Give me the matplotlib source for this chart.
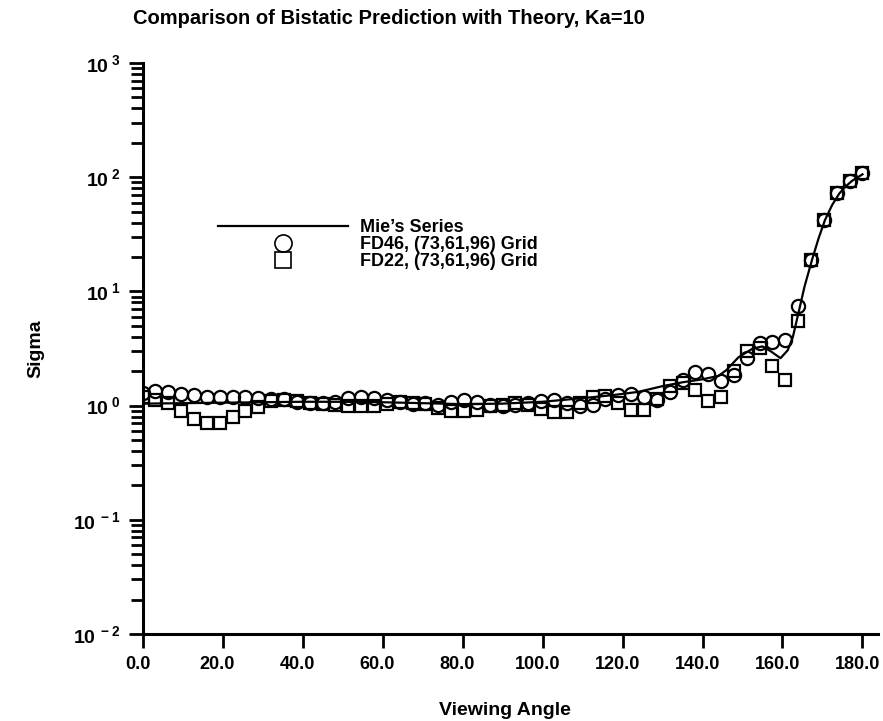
import matplotlib
matplotlib.use("Agg")
import matplotlib.pyplot as plt
from matplotlib.ticker import FixedLocator, FixedFormatter, LogLocator, NullFormatter
from matplotlib.transforms import ScaledTranslation

plt.rcParams["font.family"] = ["Liberation Sans", "DejaVu Sans"]
plt.rcParams["font.weight"] = "bold"
plt.rcParams["mathtext.fontset"] = "custom"
plt.rcParams["mathtext.rm"] = "Liberation Sans:bold"
plt.rcParams["mathtext.it"] = "Liberation Sans:bold"
plt.rcParams["mathtext.bf"] = "Liberation Sans:bold"

# viewing angles of the computed points (deg)
angle = [0.0, 3.2, 6.4, 9.6, 12.9, 16.1, 19.3, 22.5, 25.7, 28.9,
         32.1, 35.4, 38.6, 41.8, 45.0, 48.2, 51.4, 54.6, 57.9, 61.1,
         64.3, 67.5, 70.7, 73.9, 77.1, 80.4, 83.6, 86.8, 90.0, 93.2,
         96.4, 99.6, 102.9, 106.1, 109.3, 112.5, 115.7, 118.9, 122.1, 125.4,
         128.6, 131.8, 135.0, 138.2, 141.4, 144.6, 147.9, 151.1, 154.3, 157.5,
         160.7, 163.9, 167.1, 170.4, 173.6, 176.8, 180.0]

fd46 = [1.30, 1.35, 1.31, 1.27, 1.23, 1.20, 1.19, 1.19, 1.18, 1.17,
        1.15, 1.15, 1.07, 1.05, 1.05, 1.08, 1.16, 1.19, 1.17, 1.13,
        1.07, 1.03, 1.05, 1.02, 1.08, 1.12, 1.08, 1.02, 1.00, 1.02,
        1.05, 1.10, 1.13, 1.06, 1.00, 1.02, 1.15, 1.25, 1.27, 1.20,
        1.13, 1.31, 1.69, 1.96, 1.90, 1.63, 1.85, 2.60, 3.50, 3.60,
        3.78, 7.4, 19.0, 42.0, 72.0, 93.0, 108.0]

fd22 = [1.18, 1.12, 1.06, 0.89, 0.77, 0.71, 0.71, 0.79, 0.89, 0.97,
        1.09, 1.12, 1.10, 1.05, 1.03, 1.02, 1.00, 0.99, 1.00, 1.04,
        1.07, 1.05, 1.03, 0.96, 0.90, 0.89, 0.92, 0.99, 1.02, 1.06,
        1.02, 0.93, 0.87, 0.88, 1.05, 1.20, 1.22, 1.06, 0.92, 0.92,
        1.15, 1.47, 1.59, 1.38, 1.09, 1.20, 2.00, 3.00, 3.20, 2.20,
        1.69, 5.5, 19.0, 42.0, 72.0, 93.0, 108.0]

mie_angle = [0, 10, 20, 30, 40, 50, 60, 70, 80, 90,
             100, 105, 112, 118, 124, 130, 135, 140, 144, 146,
             149, 152.5, 155, 157, 159.5, 161.3, 162.6, 164, 165.5, 167.4,
             169, 170.6, 172.4, 174.2, 175.8, 177.4, 180]
mie_sigma = [1.04, 1.05, 1.06, 1.07, 1.08, 1.08, 1.07, 1.05, 1.03, 1.04,
             1.08, 1.12, 1.18, 1.24, 1.32, 1.48, 1.60, 1.70, 1.82, 2.05,
             2.65, 3.15, 3.30, 3.00, 2.60, 3.05, 4.0, 6.5, 11.0, 19.0,
             29.0, 42.0, 57.0, 72.0, 83.0, 93.0, 106.0]

xticks = [0, 20, 40, 60, 80, 100, 120, 140, 160, 180]
xtick_labels = ["0.0", "20.0", "40.0", "60.0", "80.0", "100.0", "120.0", "140.0", "160.0", "180.0"]
yticks = [1e-2, 1e-1, 1e0, 1e1, 1e2, 1e3]
ytick_labels = [r"$10^{\;-2}$", r"$10^{\;-1}$", r"$10^{\;0}$", r"$10^{\;1}$", r"$10^{\;2}$", r"$10^{\;3}$"]

fig = plt.figure(figsize=(8.83, 7.21), dpi=100)
ax = fig.add_axes([0.1614, 0.1207, 0.8335, 0.7919])

ax.plot(mie_angle, mie_sigma, color="black", lw=1.6, label="Mie\u2019s Series")
ax.plot(angle, fd46, ls="none", marker="o", ms=9.5, mfc="none", mec="black", mew=1.6,
        label="FD46, (73,61,96) Grid")
ax.plot(angle, fd22, ls="none", marker="s", ms=9, mfc="none", mec="black", mew=1.6,
        label="FD22, (73,61,96) Grid")

ax.set_yscale("log")
ax.set_xlim(0, 184)
ax.set_ylim(1e-2, 1e3)

ax.xaxis.set_major_locator(FixedLocator(xticks))
ax.xaxis.set_major_formatter(FixedFormatter(xtick_labels))
ax.yaxis.set_major_locator(FixedLocator(yticks))
ax.yaxis.set_major_formatter(FixedFormatter(ytick_labels))
ax.yaxis.set_minor_locator(LogLocator(base=10, subs=range(2, 10)))
ax.yaxis.set_minor_formatter(NullFormatter())

for s in ["top", "right"]:
    ax.spines[s].set_visible(False)
for s in ["left", "bottom"]:
    ax.spines[s].set_linewidth(2.2)

ax.tick_params(axis="both", which="major", direction="out", length=10, width=2, pad=6)
ax.tick_params(axis="x", which="major", labelsize=13)
ax.tick_params(axis="y", which="major", labelsize=14)
ax.tick_params(axis="y", which="minor", direction="out", length=9, width=2)

# x labels sit a little left of their ticks in the original
shift = ScaledTranslation(-5 / 100, 0, fig.dpi_scale_trans)
for lab in ax.get_xticklabels():
    lab.set_transform(lab.get_transform() + shift)

ax.set_xlabel("Viewing Angle", fontsize=14, fontweight="bold")
ax.set_ylabel("Sigma", fontsize=14, fontweight="bold")
ax.xaxis.set_label_coords(0.4925, -0.119)
ax.yaxis.set_label_coords(-0.134, 0.5)

fig.text(0.44, 0.975, "Comparison of Bistatic Prediction with Theory, Ka=10",
         ha="center", va="center", fontsize=14.5, fontweight="bold")

leg = ax.legend(loc="upper left", bbox_to_anchor=(0.1026, 0.727), frameon=False,
                handlelength=7.2, handletextpad=0.65, labelspacing=0.0, numpoints=1,
                borderpad=0, borderaxespad=0, markerscale=1.3,
                prop={"size": 13, "weight": "bold"})
for h in leg.legend_handles[1:]:
    h.set_markeredgewidth(1.2)

plt.savefig("out.png", dpi=100)
